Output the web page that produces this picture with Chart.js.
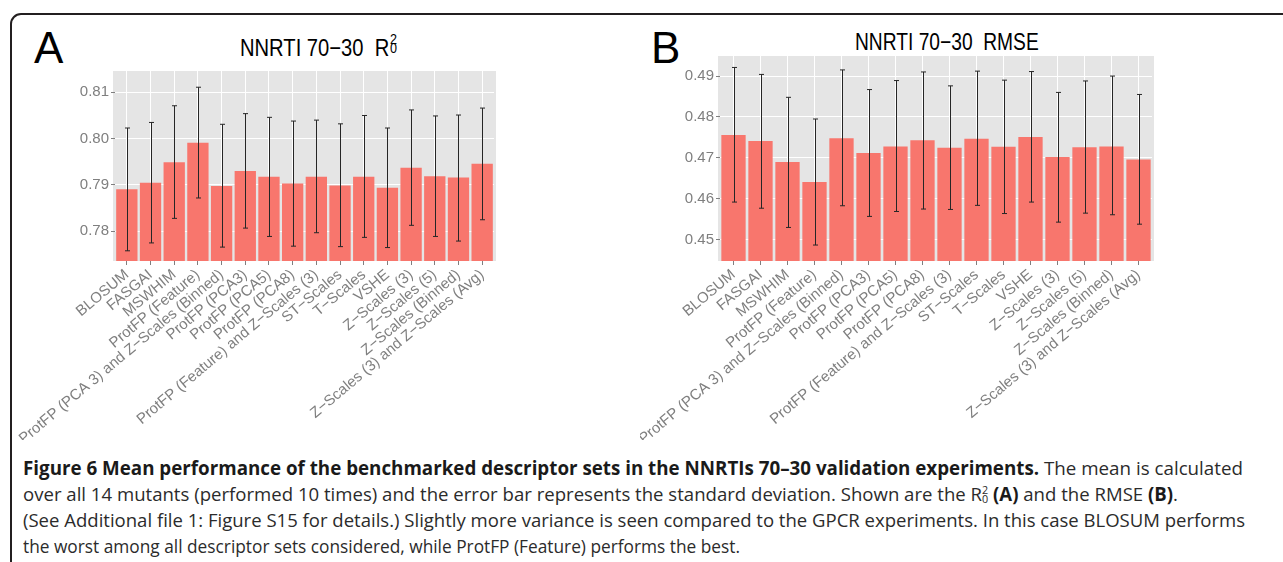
<!DOCTYPE html>
<html>
<head>
<meta charset="utf-8">
<title>NNRTI 70-30</title>
<script src="https://cdn.jsdelivr.net/npm/chart.js@4.4.0/dist/chart.umd.min.js"></script>
<style>
  html, body { margin: 0; padding: 0; background: #fff; }
  body { width: 1283px; height: 562px; position: relative; overflow: hidden; }
  .frame { position: absolute; left: 10px; top: 13px; width: 1300px; height: 600px;
           border: 2px solid #231f20; border-radius: 11px; }
  canvas { position: absolute; }
  .letter { position: absolute; font-family: "Liberation Sans", Arial, sans-serif; font-size: 44px;
            line-height: 1; color: #000; }
  .ptitle { position: absolute; font-family: "Liberation Sans", Arial, sans-serif;
            font-size: 24px; line-height: 1; color: #000; white-space: nowrap;
            transform-origin: 0 0; }
  .stack { display: inline-block; vertical-align: top; font-size: 15px; line-height: 9px;
           margin-left: 1px; position: relative; top: -2px; }
  .stack span { display: block; }
  .cap { position: absolute; left: 23px; font-family: "Open Sans", "Noto Sans", sans-serif; font-size: 19px;
         line-height: 1; color: #2b2b2b; white-space: nowrap; transform-origin: 0 0; }
  .cap b { color: #1a1a1a; }
  .cstack { display: inline-block; vertical-align: top; font-size: 11px; line-height: 9px; position: relative; top: 0px; }
  .cstack span { display: block; }
</style>
</head>
<body>
<div class="frame"></div>
<div class="letter" style="left:34px; top:26px;">A</div>
<div class="letter" style="left:651px; top:26px;">B</div>
<div class="ptitle" style="left:240px; top:36px; transform: scaleX(0.84);">NNRTI 70−30&nbsp; R<span class="stack"><span>2</span><span>0</span></span></div>
<div class="ptitle" style="left:855px; top:30px; transform: scaleX(0.80);">NNRTI 70−30&nbsp; RMSE</div>

<canvas id="chartA" width="640" height="380" style="left:0px; top:60px;"></canvas>
<canvas id="chartB" width="643" height="395" style="left:640px; top:45px;"></canvas>

<div class="cap" style="top:459px;"><b>Figure 6 Mean performance of the benchmarked descriptor sets in the NNRTIs 70–30 validation experiments.</b> The mean is calculated</div>
<div class="cap" style="top:485px;">over all 14 mutants (performed 10 times) and the error bar represents the standard deviation. Shown are the R<span class="cstack"><span>2</span><span>0</span></span> <b>(A)</b> and the RMSE <b>(B)</b>.</div>
<div class="cap" style="top:511px;">(See Additional file 1: Figure S15 for details.) Slightly more variance is seen compared to the GPCR experiments. In this case BLOSUM performs</div>
<div class="cap" style="top:537px;">the worst among all descriptor sets considered, while ProtFP (Feature) performs the best.</div>

<script>
// descriptor sets (x axis, same order in both panels)
var categories = ['BLOSUM', 'FASGAI', 'MSWHIM', 'ProtFP (Feature)',
    'ProtFP (PCA 3) and Z−Scales (Binned)', 'ProtFP (PCA3)', 'ProtFP (PCA5)', 'ProtFP (PCA8)',
    'ProtFP (Feature) and Z−Scales (3)', 'ST−Scales', 'T−Scales', 'VSHE',
    'Z−Scales (3)', 'Z−Scales (5)', 'Z−Scales (Binned)', 'Z−Scales (3) and Z−Scales (Avg)'];

// panel A: R0^2 mean and mean +/- sd
var r2Mean  = [0.7891, 0.7905, 0.7949, 0.7991, 0.7898, 0.7930, 0.7918, 0.7903,
               0.7918, 0.7899, 0.7918, 0.7894, 0.7937, 0.7919, 0.7916, 0.7946];
var r2Upper = [0.8023, 0.8035, 0.8071, 0.8111, 0.8031, 0.8054, 0.8046, 0.8038,
               0.8040, 0.8032, 0.8050, 0.8023, 0.8062, 0.8049, 0.8051, 0.8066];
var r2Lower = [0.7758, 0.7775, 0.7828, 0.7872, 0.7766, 0.7807, 0.7789, 0.7768,
               0.7797, 0.7767, 0.7787, 0.7765, 0.7813, 0.7789, 0.7779, 0.7825];
var r2Ticks = [0.78, 0.79, 0.80, 0.81];

// panel B: RMSE mean and mean +/- sd
var rmseMean  = [0.4756, 0.4741, 0.4690, 0.4641, 0.4748, 0.4712, 0.4728, 0.4743,
                 0.4725, 0.4747, 0.4727, 0.4751, 0.4702, 0.4726, 0.4728, 0.4696];
var rmseUpper = [0.4921, 0.4904, 0.4848, 0.4795, 0.4915, 0.4867, 0.4889, 0.4910,
                 0.4876, 0.4912, 0.4890, 0.4911, 0.4860, 0.4888, 0.4900, 0.4855];
var rmseLower = [0.4592, 0.4577, 0.4530, 0.4487, 0.4583, 0.4557, 0.4569, 0.4575,
                 0.4574, 0.4584, 0.4564, 0.4592, 0.4543, 0.4565, 0.4561, 0.4538];
var rmseTicks = [0.45, 0.46, 0.47, 0.48, 0.49];

var panelBg = {
    id: 'panelBg',
    beforeDraw: function (chart) {
        var a = chart.chartArea, ctx = chart.ctx;
        ctx.save();
        ctx.fillStyle = '#e5e5e5';
        ctx.fillRect(a.left - 2, a.top, a.right - a.left + 4, a.bottom - a.top);
        ctx.restore();
    }
};

// error bars, drawn through the chart's own scales
var errorBars = {
    id: 'errorBars',
    afterDatasetsDraw: function (chart) {
        var o = chart.options.plugins.errorBars;
        var meta = chart.getDatasetMeta(0);
        var y = chart.scales.y, ctx = chart.ctx;
        ctx.save();
        ctx.strokeStyle = '#262626';
        ctx.lineWidth = 1;
        for (var i = 0; i < meta.data.length; i++) {
            var x = Math.round(meta.data[i].x) + 0.5;
            var top = y.getPixelForValue(o.upper[i]);
            var bot = y.getPixelForValue(o.lower[i]);
            ctx.beginPath();
            ctx.moveTo(x, top); ctx.lineTo(x, bot);
            ctx.moveTo(x - 2.5, top); ctx.lineTo(x + 2.5, top);
            ctx.moveTo(x - 2.5, bot); ctx.lineTo(x + 2.5, bot);
            ctx.stroke();
        }
        ctx.restore();
    }
};

function makeChart(id, means, lower, upper, yTicks, yMin, yMax, pad, yWidth) {
    return new Chart(document.getElementById(id), {
        type: 'bar',
        data: {
            labels: categories,
            datasets: [{
                data: means,
                backgroundColor: '#f8766d',
                barPercentage: 0.9,
                categoryPercentage: 1.0
            }]
        },
        options: {
            responsive: false,
            animation: false,
            devicePixelRatio: 1,
            layout: { padding: pad },
            plugins: {
                legend: { display: false },
                tooltip: { enabled: false },
                errorBars: { lower: lower, upper: upper }
            },
            scales: {
                x: {
                    offset: true,
                    grid: { color: '#ffffff', lineWidth: 1, offset: false, tickColor: '#7f7f7f', tickLength: 4 },
                    border: { display: false },
                    ticks: {
                        autoSkip: false, minRotation: 40, maxRotation: 40, padding: 1,
                        color: '#7f7f7f', font: { family: 'Liberation Sans', size: 15 }
                    },
                    afterFit: function (s) { s.height = 179; }
                },
                y: {
                    min: yMin, max: yMax,
                    grid: { color: '#ffffff', lineWidth: 1, tickColor: '#7f7f7f', tickLength: 4 },
                    border: { display: false },
                    afterBuildTicks: function (s) {
                        s.ticks = yTicks.map(function (v) { return { value: v }; });
                    },
                    ticks: {
                        padding: 2, color: '#7f7f7f',
                        font: { family: 'Liberation Sans', size: 15 },
                        callback: function (v) { return v.toFixed(2); }
                    },
                    afterFit: function (s) { s.width = yWidth; }
                }
            }
        },
        plugins: [panelBg, errorBars]
    });
}

makeChart('chartA', r2Mean, r2Lower, r2Upper, r2Ticks, 0.7736, 0.8146,
          { top: 7, left: 0, right: 146, bottom: 0 }, 115);
makeChart('chartB', rmseMean, rmseLower, rmseUpper, rmseTicks, 0.4448, 0.4949,
          { top: 7, left: 0, right: 131, bottom: 0 }, 80);

// squeeze each caption line to the width it has in the figure
var capEnds = [1243, 1178, 1245, 740];
var caps = document.querySelectorAll('.cap');
for (var i = 0; i < caps.length; i++) {
    var w = caps[i].getBoundingClientRect().width;
    caps[i].style.transform = 'scaleX(' + ((capEnds[i] - 23) / w) + ')';
}
</script>
</body>
</html>
